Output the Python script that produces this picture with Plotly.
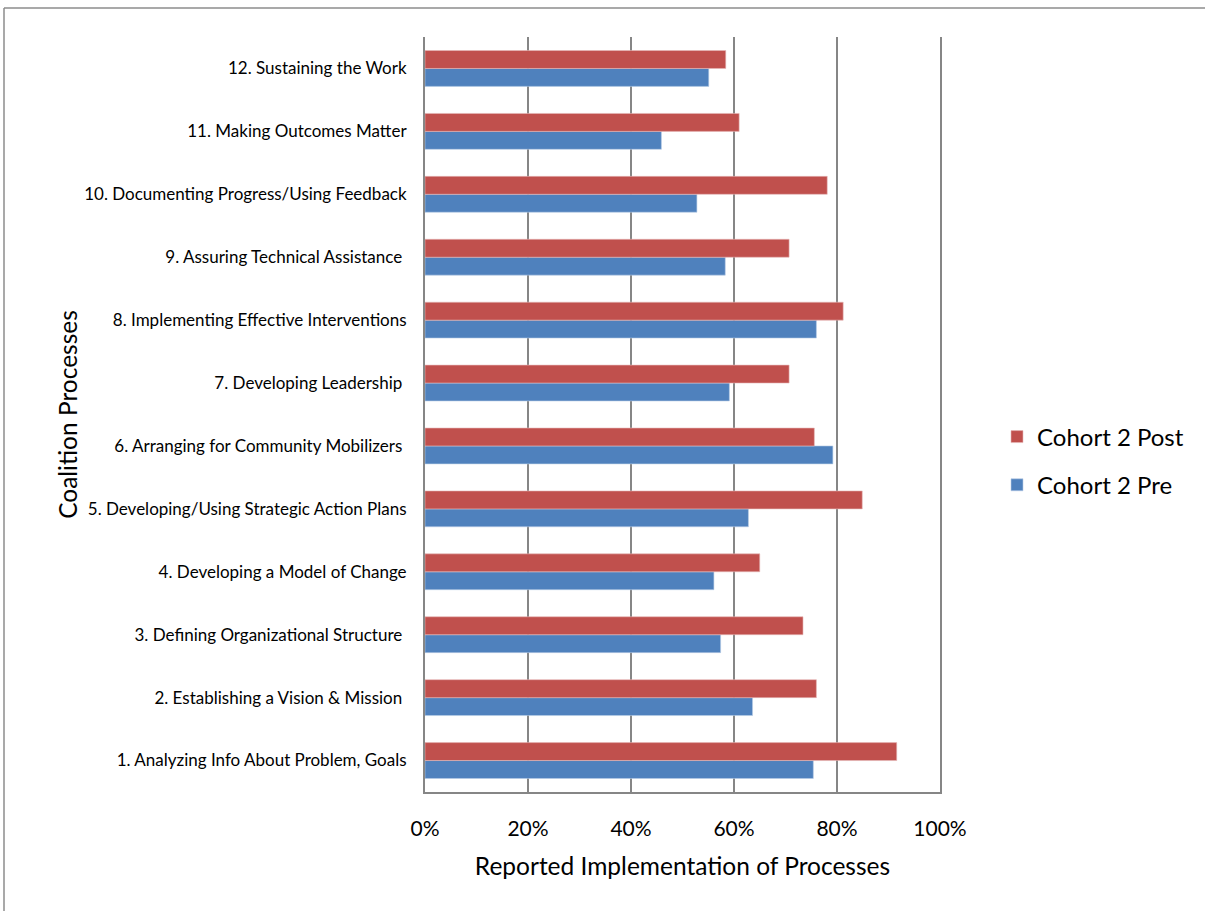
import plotly.graph_objects as go

categories = [
    "1. Analyzing Info About Problem, Goals",
    "2. Establishing a Vision & Mission ",
    "3. Defining Organizational Structure ",
    "4. Developing a Model of Change",
    "5. Developing/Using Strategic Action Plans",
    "6. Arranging for Community Mobilizers ",
    "7. Developing Leadership ",
    "8. Implementing Effective Interventions",
    "9. Assuring Technical Assistance ",
    "10. Documenting Progress/Using Feedback",
    "11. Making Outcomes Matter",
    "12. Sustaining the Work",
]
cohort2_pre = [0.754, 0.636, 0.574, 0.561, 0.628, 0.792, 0.591, 0.760, 0.583, 0.528, 0.459, 0.551]
cohort2_post = [0.916, 0.760, 0.734, 0.650, 0.849, 0.756, 0.707, 0.812, 0.707, 0.781, 0.610, 0.584]
x_ticks = [0, 0.2, 0.4, 0.6, 0.8, 1.0]
x_tick_text = ["0%", "20%", "40%", "60%", "80%", "100%"]

FONT = "Lato, 'Open Sans', sans-serif"
RED = "#C0504D"
BLUE = "#4F81BD"
GRID = "#868686"

fig = go.Figure()
fig.add_trace(go.Bar(
    y=categories, x=cohort2_pre, orientation="h", name="Cohort 2 Pre",
    marker=dict(color=BLUE, line=dict(color="#B9CDE5", width=0.6)),
    legendgroup="pre", legendrank=2,
))
fig.add_trace(go.Bar(
    y=categories, x=cohort2_post, orientation="h", name="Cohort 2 Post",
    marker=dict(color=RED, line=dict(color="#E6B9B8", width=0.6)),
    legendgroup="post", legendrank=1,
))

W, H = 1205, 911
ML, MR, MT, MB = 425, 265, 37, 119
pw, ph = W - ML - MR, H - MT - MB

fig.update_layout(
    width=W, height=H,
    margin=dict(l=ML, r=MR, t=MT, b=MB),
    paper_bgcolor="white", plot_bgcolor="white",
    barmode="group", bargap=0.43, bargroupgap=0,
    font=dict(family=FONT, color="black"),
    xaxis=dict(
        range=[0, 1], tickvals=x_ticks, ticktext=x_tick_text,
        showgrid=True, gridcolor=GRID, gridwidth=1.5,
        showline=True, linecolor=GRID, linewidth=2,
        zeroline=False, ticks="outside", ticklen=0,
        ticklabelstandoff=17,
        tickfont=dict(size=21, family=FONT),
        title=dict(text="Reported Implementation of Processes",
                   font=dict(size=24.5, family=FONT), standoff=19),
        fixedrange=True,
    ),
    yaxis=dict(
        type="category", categoryorder="array", categoryarray=categories,
        showgrid=False, showline=True, linecolor=GRID, linewidth=2,
        mirror=True,
        ticks="outside", ticklen=0, ticklabelstandoff=13,
        tickfont=dict(size=17, family=FONT),
        title=dict(text="Coalition Processes", font=dict(size=24.5, family=FONT), standoff=0),
        fixedrange=True,
    ),
    legend=dict(
        x=(997 - ML) / pw, xanchor="left", y=(H - MB - 461) / ph, yanchor="middle",
        traceorder="grouped", tracegroupgap=14,
        font=dict(size=24, family=FONT), itemwidth=30,
        bgcolor="rgba(0,0,0,0)",
    ),
)

# chart frame border (top and left edges visible in the window)
fig.add_shape(type="line", xref="paper", yref="paper",
              x0=(4 - ML) / pw, x1=(W + 5 - ML) / pw,
              y0=(H - MB - 8) / ph, y1=(H - MB - 8) / ph,
              line=dict(color="#8C8C8C", width=1.5))
fig.add_shape(type="line", xref="paper", yref="paper",
              x0=(4 - ML) / pw, x1=(4 - ML) / pw,
              y0=(H - MB - 8) / ph, y1=(-MB - 5) / ph,
              line=dict(color="#8C8C8C", width=1.5))

fig.write_html("out.html")
